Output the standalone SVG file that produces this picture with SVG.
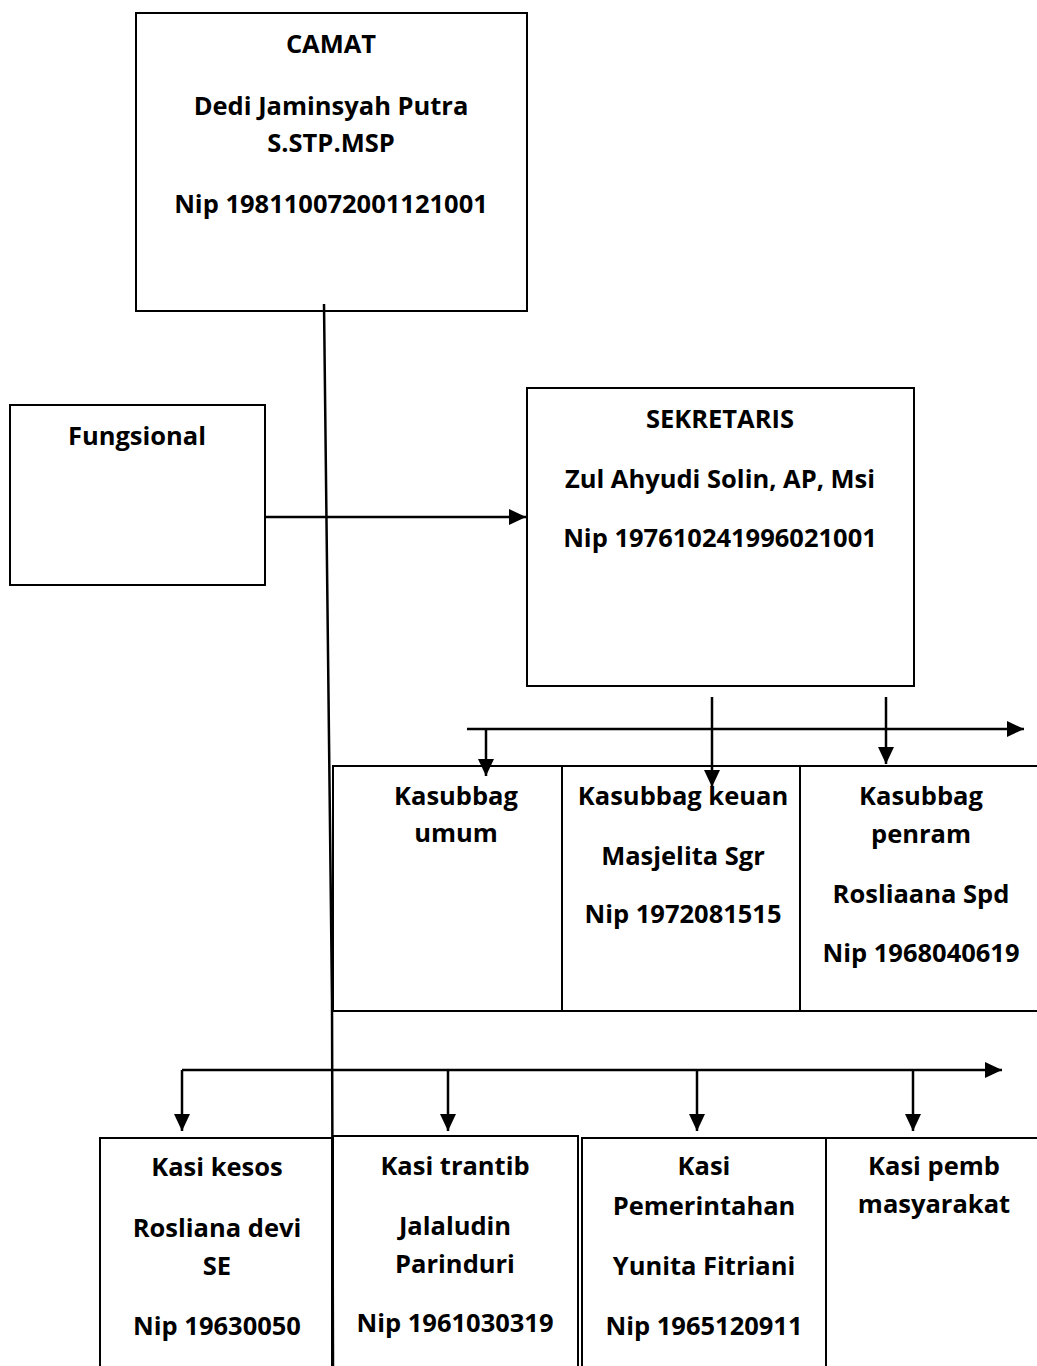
<svg xmlns="http://www.w3.org/2000/svg" width="1037" height="1366" viewBox="0 0 1037 1366">
<style>
.box{fill:#fff;stroke:#000;stroke-width:2}
.t{font-family:"Open Sans","Noto Sans",sans-serif;font-weight:bold;font-size:25.5px;fill:#000;text-anchor:middle}
.c{fill:none;stroke:#000;stroke-width:2.5}
</style>
<defs>
<marker id="ah" markerUnits="userSpaceOnUse" markerWidth="18" markerHeight="16" refX="17" refY="8" orient="auto">
<path d="M0,0 L17,8 L0,16 Z" fill="#000"/>
</marker>
</defs>
<rect width="1037" height="1366" fill="#fff"/>
<g id="camat">
<rect class="box" x="136" y="13" width="391" height="298"/>
<text class="t" x="331" y="53">CAMAT</text>
<text class="t" x="331" y="115">Dedi Jaminsyah Putra</text>
<text class="t" x="331" y="152">S.STP.MSP</text>
<text class="t" x="331" y="213">Nip 198110072001121001</text>
</g>
<g id="fungsional">
<rect class="box" x="10" y="405" width="255" height="180"/>
<text class="t" x="137" y="445">Fungsional</text>
</g>
<g id="sekretaris">
<rect class="box" x="527" y="388" width="387" height="298"/>
<text class="t" x="720" y="428">SEKRETARIS</text>
<text class="t" x="720" y="488">Zul Ahyudi Solin, AP, Msi</text>
<text class="t" x="720" y="547">Nip 197610241996021001</text>
</g>
<g id="kasubbag-umum">
<rect class="box" x="333" y="766" width="229" height="245"/>
<text class="t" x="456" y="805">Kasubbag</text>
<text class="t" x="456" y="842">umum</text>
</g>
<g id="kasubbag-keuan">
<rect class="box" x="562" y="766" width="238" height="245"/>
<text class="t" x="683" y="805">Kasubbag keuan</text>
<text class="t" x="683" y="865">Masjelita Sgr</text>
<text class="t" x="683" y="923">Nip 1972081515</text>
</g>
<g id="kasubbag-penram">
<rect class="box" x="800" y="766" width="250" height="245"/>
<text class="t" x="921" y="805">Kasubbag</text>
<text class="t" x="921" y="843">penram</text>
<text class="t" x="921" y="903">Rosliaana Spd</text>
<text class="t" x="921" y="962">Nip 1968040619</text>
</g>
<g id="kasi-kesos">
<rect class="box" x="100" y="1138" width="232" height="240"/>
<text class="t" x="217" y="1176">Kasi kesos</text>
<text class="t" x="217" y="1237">Rosliana devi</text>
<text class="t" x="217" y="1275">SE</text>
<text class="t" x="217" y="1335">Nip 19630050</text>
</g>
<g id="kasi-trantib">
<rect class="box" x="333" y="1136" width="245" height="240"/>
<text class="t" x="455" y="1175">Kasi trantib</text>
<text class="t" x="455" y="1235">Jalaludin</text>
<text class="t" x="455" y="1273">Parinduri</text>
<text class="t" x="455" y="1332">Nip 1961030319</text>
</g>
<g id="kasi-pemerintahan">
<rect class="box" x="582" y="1138" width="244" height="240"/>
<text class="t" x="704" y="1175">Kasi</text>
<text class="t" x="704" y="1215">Pemerintahan</text>
<text class="t" x="704" y="1275">Yunita Fitriani</text>
<text class="t" x="704" y="1335">Nip 1965120911</text>
</g>
<g id="kasi-pemb">
<rect class="box" x="826" y="1138" width="230" height="240"/>
<text class="t" x="934" y="1175">Kasi pemb</text>
<text class="t" x="934" y="1213">masyarakat</text>
</g>
<g id="connectors">
<polyline class="c" points="324,304 332,1000 333,1366"/>
<line class="c" x1="265" y1="517" x2="526" y2="517" marker-end="url(#ah)"/>
<line class="c" x1="712" y1="697" x2="712" y2="787" marker-end="url(#ah)"/>
<line class="c" x1="886" y1="697" x2="886" y2="764" marker-end="url(#ah)"/>
<line class="c" x1="467" y1="729" x2="1024" y2="729" marker-end="url(#ah)"/>
<line class="c" x1="486" y1="729" x2="486" y2="776" marker-end="url(#ah)"/>
<line class="c" x1="182" y1="1070" x2="1002" y2="1070" marker-end="url(#ah)"/>
<line class="c" x1="182" y1="1070" x2="182" y2="1131" marker-end="url(#ah)"/>
<line class="c" x1="448" y1="1070" x2="448" y2="1131" marker-end="url(#ah)"/>
<line class="c" x1="697" y1="1070" x2="697" y2="1131" marker-end="url(#ah)"/>
<line class="c" x1="913" y1="1070" x2="913" y2="1131" marker-end="url(#ah)"/>
</g>
</svg>
